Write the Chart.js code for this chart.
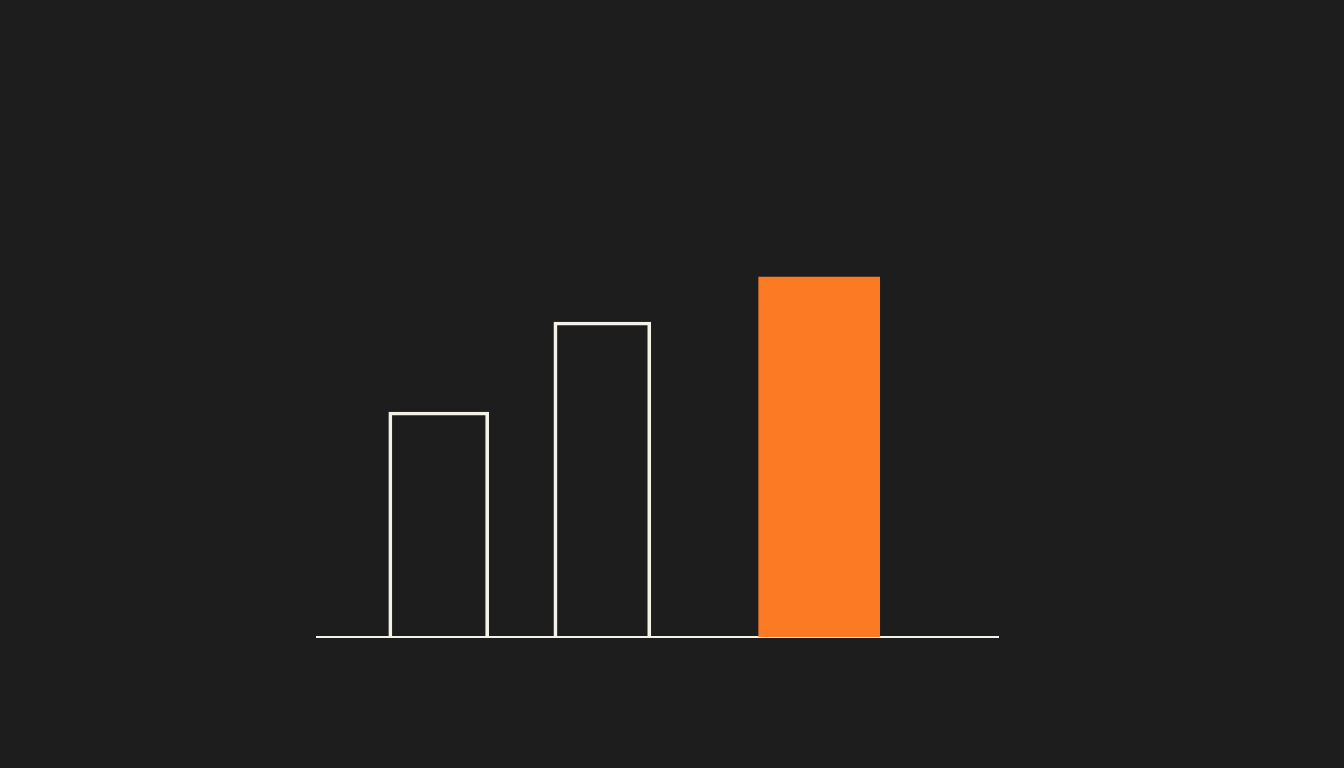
<!DOCTYPE html>
<html lang="en">
<head>
  <meta charset="UTF-8">
  <title>Bars</title>
  <script src="https://cdn.jsdelivr.net/npm/chart.js"></script>
  <style>
    html, body {
      margin: 0;
      padding: 0;
      background: #1d1d1d;
    }
    #wrap {
      width: 1344px;
      height: 768px;
    }
  </style>
</head>
<body>
  <div id="wrap">
    <canvas id="chart" width="1344" height="768"></canvas>
  </div>

  <script>
    // data (x position, bars are not evenly spaced)
    const positions = [1, 1.86, 3];
    const values = [50, 70, 80];
    const fills = ['rgba(0,0,0,0)', 'rgba(0,0,0,0)', '#fd7a25'];
    const outlines = ['#f4f1e6', '#f4f1e6', '#fd7a25'];
    const widths = [100, 97, 121];

    // one dataset per bar so each can have its own width
    const datasets = positions.map((x, i) => ({
      data: [{ x: x, y: values[i] }],
      backgroundColor: fills[i],
      borderColor: outlines[i],
      borderWidth: i < 2 ? 3 : 0,
      barThickness: widths[i],
      grouped: false
    }));

    new Chart(document.getElementById('chart'), {
      type: 'bar',
      data: { datasets: datasets },
      options: {
        responsive: false,
        animation: false,
        layout: {
          padding: { top: 187, bottom: 131, left: 317, right: 346 }
        },
        plugins: {
          legend: { display: false },
          tooltip: { enabled: false }
        },
        scales: {
          x: {
            type: 'linear',
            offset: false,
            min: 0.36,
            max: 3.94,
            ticks: { display: false },
            grid: { display: false, drawTicks: false },
            border: { display: true, color: '#f4f1e6', width: 2 }
          },
          y: {
            display: false,
            min: 0,
            max: 100
          }
        }
      }
    });
  </script>
</body>
</html>
